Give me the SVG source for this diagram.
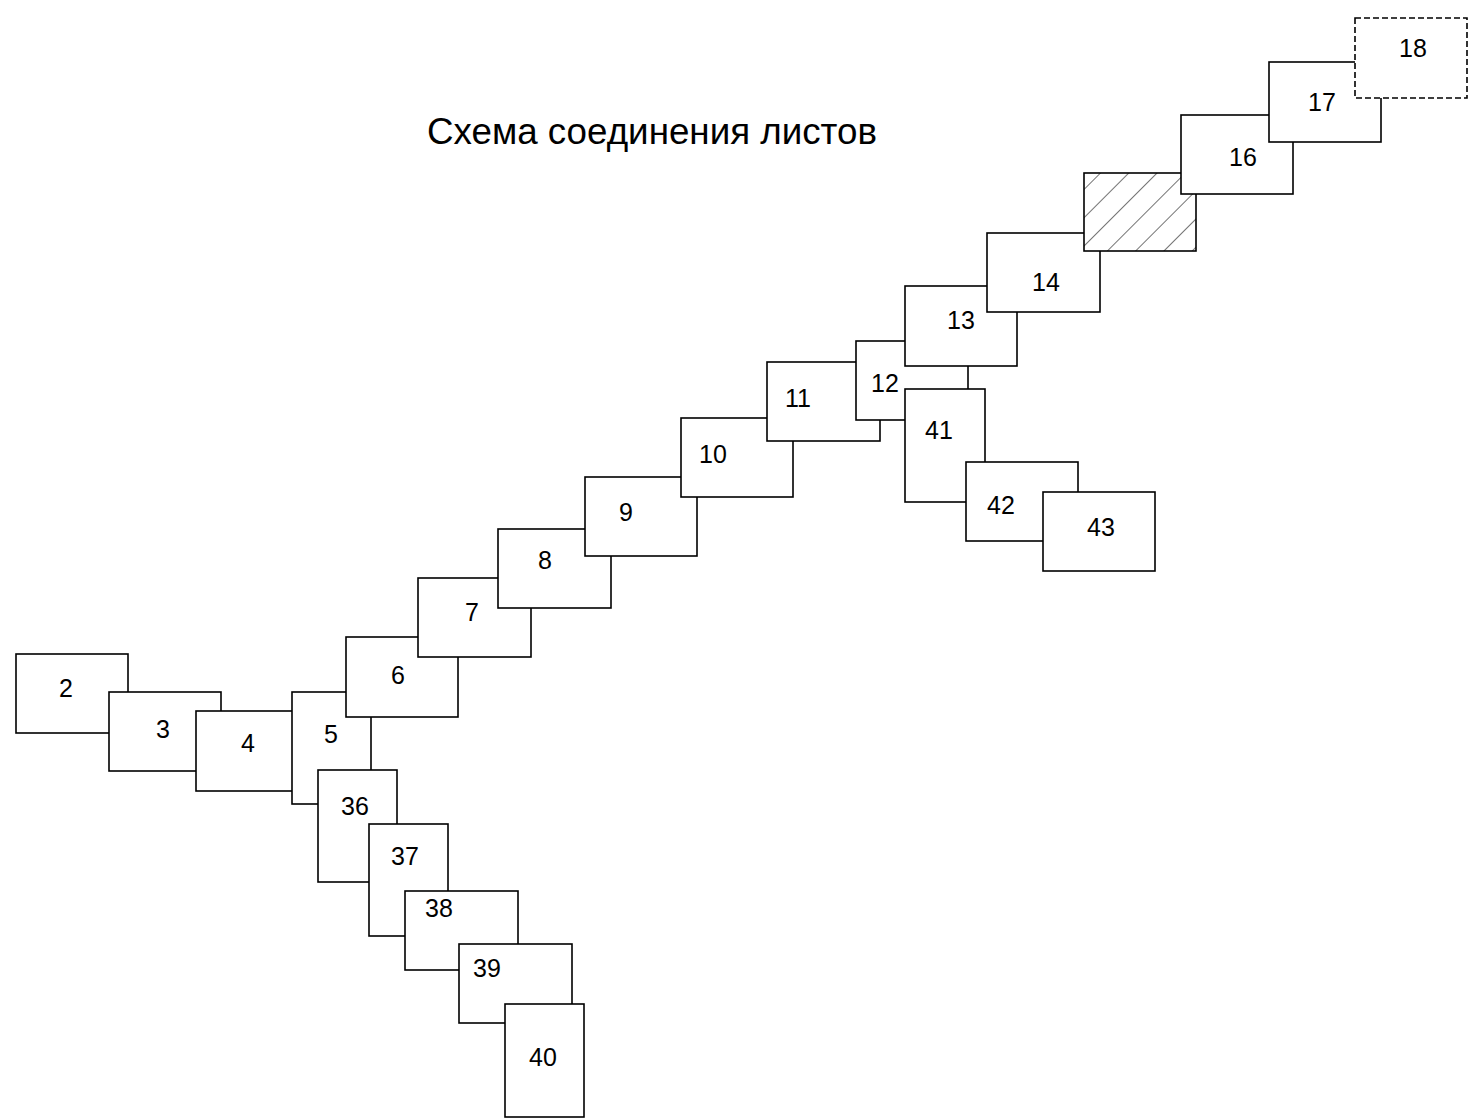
<svg xmlns="http://www.w3.org/2000/svg" width="1469" height="1119" viewBox="0 0 1469 1119">
<style>
.b{fill:#fff;stroke:#000;stroke-width:1.6}
.d{fill:#fff;stroke:#000;stroke-width:1.6;stroke-dasharray:6 3}
.h{fill:url(#hatch);stroke:#000;stroke-width:1.6}
.t{font-family:"Liberation Sans",Arial,sans-serif;font-size:25px;fill:#000;text-anchor:middle}
.title{font-family:"Liberation Sans",Arial,sans-serif;font-size:36.5px;fill:#000}
</style>
<defs>
<pattern id="hatch" patternUnits="userSpaceOnUse" width="20" height="20" patternTransform="rotate(45)">
<rect width="20" height="20" fill="#fff"/>
<line x1="0" y1="0" x2="0" y2="20" stroke="#000" stroke-width="1.1"/>
</pattern>
</defs>
<rect width="1469" height="1119" fill="#fff"/>
<text class="title" x="427" y="144" textLength="450" lengthAdjust="spacingAndGlyphs">Схема соединения листов</text>
<g id="n2"><rect class="b" x="16" y="654" width="112" height="79"/><text class="t" x="66" y="697">2</text></g>
<g id="n3"><rect class="b" x="109" y="692" width="112" height="79"/><text class="t" x="163" y="738">3</text></g>
<g id="n4"><rect class="b" x="196" y="711" width="112" height="80"/><text class="t" x="248" y="752">4</text></g>
<g id="n5"><rect class="b" x="292" y="692" width="79" height="112"/><text class="t" x="331" y="743">5</text></g>
<g id="n6"><rect class="b" x="346" y="637" width="112" height="80"/><text class="t" x="398" y="684">6</text></g>
<g id="n36"><rect class="b" x="318" y="770" width="79" height="112"/><text class="t" x="355" y="815">36</text></g>
<g id="n37"><rect class="b" x="369" y="824" width="79" height="112"/><text class="t" x="405" y="865">37</text></g>
<g id="n38"><rect class="b" x="405" y="891" width="113" height="79"/><text class="t" x="439" y="917">38</text></g>
<g id="n39"><rect class="b" x="459" y="944" width="113" height="79"/><text class="t" x="487" y="977">39</text></g>
<g id="n40"><rect class="b" x="505" y="1004" width="79" height="113"/><text class="t" x="543" y="1066">40</text></g>
<g id="n7"><rect class="b" x="418" y="578" width="113" height="79"/><text class="t" x="472" y="621">7</text></g>
<g id="n8"><rect class="b" x="498" y="529" width="113" height="79"/><text class="t" x="545" y="569">8</text></g>
<g id="n9"><rect class="b" x="585" y="477" width="112" height="79"/><text class="t" x="626" y="521">9</text></g>
<g id="n10"><rect class="b" x="681" y="418" width="112" height="79"/><text class="t" x="713" y="463">10</text></g>
<g id="n11"><rect class="b" x="767" y="362" width="113" height="79"/><text class="t" x="798" y="407">11</text></g>
<g id="n12"><rect class="b" x="856" y="341" width="112" height="79"/><text class="t" x="885" y="392">12</text></g>
<g id="n13"><rect class="b" x="905" y="286" width="112" height="80"/><text class="t" x="961" y="329">13</text></g>
<g id="n41"><rect class="b" x="905" y="389" width="80" height="113"/><text class="t" x="939" y="439">41</text></g>
<g id="n42"><rect class="b" x="966" y="462" width="112" height="79"/><text class="t" x="1001" y="514">42</text></g>
<g id="n43"><rect class="b" x="1043" y="492" width="112" height="79"/><text class="t" x="1101" y="536">43</text></g>
<g id="n14"><rect class="b" x="987" y="233" width="113" height="79"/><text class="t" x="1046" y="291">14</text></g>
<g id="n15"><rect class="h" x="1084" y="173" width="112" height="78"/></g>
<g id="n16"><rect class="b" x="1181" y="115" width="112" height="79"/><text class="t" x="1243" y="166">16</text></g>
<g id="n17"><rect class="b" x="1269" y="62" width="112" height="80"/><text class="t" x="1322" y="111">17</text></g>
<g id="n18"><rect class="d" x="1355" y="18" width="112" height="80"/><text class="t" x="1413" y="57">18</text></g>
</svg>
